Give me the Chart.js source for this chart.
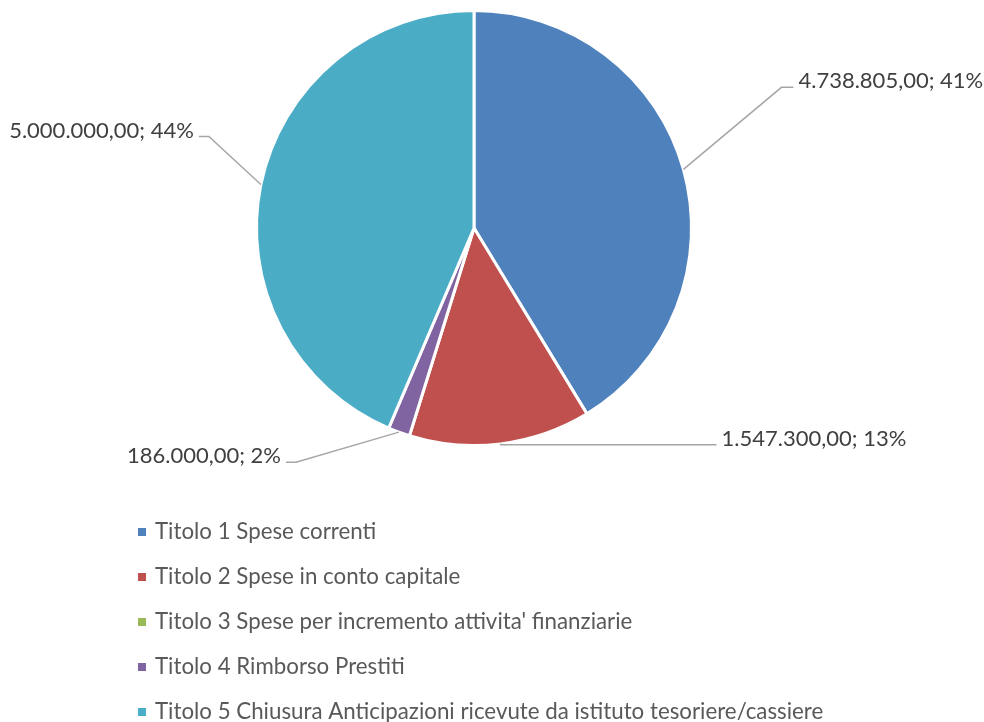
<!DOCTYPE html>
<html>
<head>
<meta charset="utf-8">
<script src="https://cdn.jsdelivr.net/npm/chart.js@4"></script>
<style>
  html, body { margin: 0; padding: 0; background: #fff; }
  #wrap { width: 984px; height: 722px; position: relative; }
</style>
</head>
<body>
<div id="wrap"><canvas id="pie" width="984" height="722"></canvas></div>
<script>
// dati
const categories = [
  "Titolo 1 Spese correnti",
  "Titolo 2 Spese in conto capitale",
  "Titolo 3 Spese per incremento attivita' finanziarie",
  "Titolo 4 Rimborso Prestiti",
  "Titolo 5 Chiusura Anticipazioni ricevute da istituto tesoriere/cassiere"
];
const values = [4738805.00, 1547300.00, 0, 186000.00, 5000000.00];
const percentLabels = ["41%", "13%", "0%", "2%", "44%"];
const colors = ["#4F81BD", "#C0504D", "#9BBB59", "#8064A2", "#4BACC6"];

const FONT = "Lato, 'Open Sans', sans-serif";

function fmtIt(v) {
  const parts = v.toFixed(2).split(".");
  return parts[0].replace(/\B(?=(\d{3})+(?!\d))/g, ".") + "," + parts[1];
}

// posizione etichette rispetto al punto medio della fetta (gomito, fine linea)
const leaderCfg = [
  { elbow: [98, -82], end: [110, -82], align: "left" },
  { elbow: [0, 1], end: [216, 1], align: "left" },
  null,
  { elbow: [-103, 30], end: [-113, 30], align: "right" },
  { elbow: [-52, -48], end: [-62, -48], align: "right" }
];

const leaderPlugin = {
  id: "leaders",
  afterDatasetsDraw(chart) {
    const c = chart.ctx;
    const meta = chart.getDatasetMeta(0);
    meta.data.forEach((arc, i) => {
      const cfg = leaderCfg[i];
      if (!cfg || !values[i]) return;
      const mid = (arc.startAngle + arc.endAngle) / 2;
      const ax = arc.x + Math.cos(mid) * arc.outerRadius;
      const ay = arc.y + Math.sin(mid) * arc.outerRadius;
      const ex = ax + cfg.elbow[0], ey = ay + cfg.elbow[1];
      const fx = ax + cfg.end[0], fy = ay + cfg.end[1];
      c.save();
      c.strokeStyle = "#A6A6A6";
      c.lineWidth = 1.5;
      c.beginPath();
      c.moveTo(ax, ay);
      c.lineTo(ex, ey);
      c.lineTo(fx, fy);
      c.stroke();
      c.fillStyle = "#404040";
      c.font = "22px " + FONT;
      c.textBaseline = "middle";
      c.textAlign = cfg.align;
      const tx = cfg.align === "left" ? fx + 5 : fx - 5;
      c.fillText(fmtIt(values[i]) + "; " + percentLabels[i], tx, fy - 6);
      c.restore();
    });
  }
};

const legendPlugin = {
  id: "sideLegend",
  afterDraw(chart) {
    const c = chart.ctx;
    const x0 = 138, y0 = 532, step = 45;
    c.save();
    c.font = "22.3px " + FONT;
    c.textBaseline = "middle";
    c.textAlign = "left";
    chart.data.labels.forEach((lab, i) => {
      const y = y0 + i * step;
      c.fillStyle = colors[i];
      c.fillRect(x0, y - 4, 8, 8);
      c.fillStyle = "#595959";
      c.fillText(lab, x0 + 17, y);
    });
    c.restore();
  }
};

new Chart(document.getElementById("pie"), {
  type: "pie",
  data: {
    labels: categories,
    datasets: [{
      data: values,
      backgroundColor: colors,
      borderColor: "#FFFFFF",
      borderWidth: 3
    }]
  },
  options: {
    responsive: false,
    animation: false,
    layout: { padding: { left: 255, right: 291, top: 9, bottom: 275 } },
    plugins: {
      legend: { display: false },
      tooltip: { enabled: false }
    }
  },
  plugins: [leaderPlugin, legendPlugin]
});
</script>
</body>
</html>
